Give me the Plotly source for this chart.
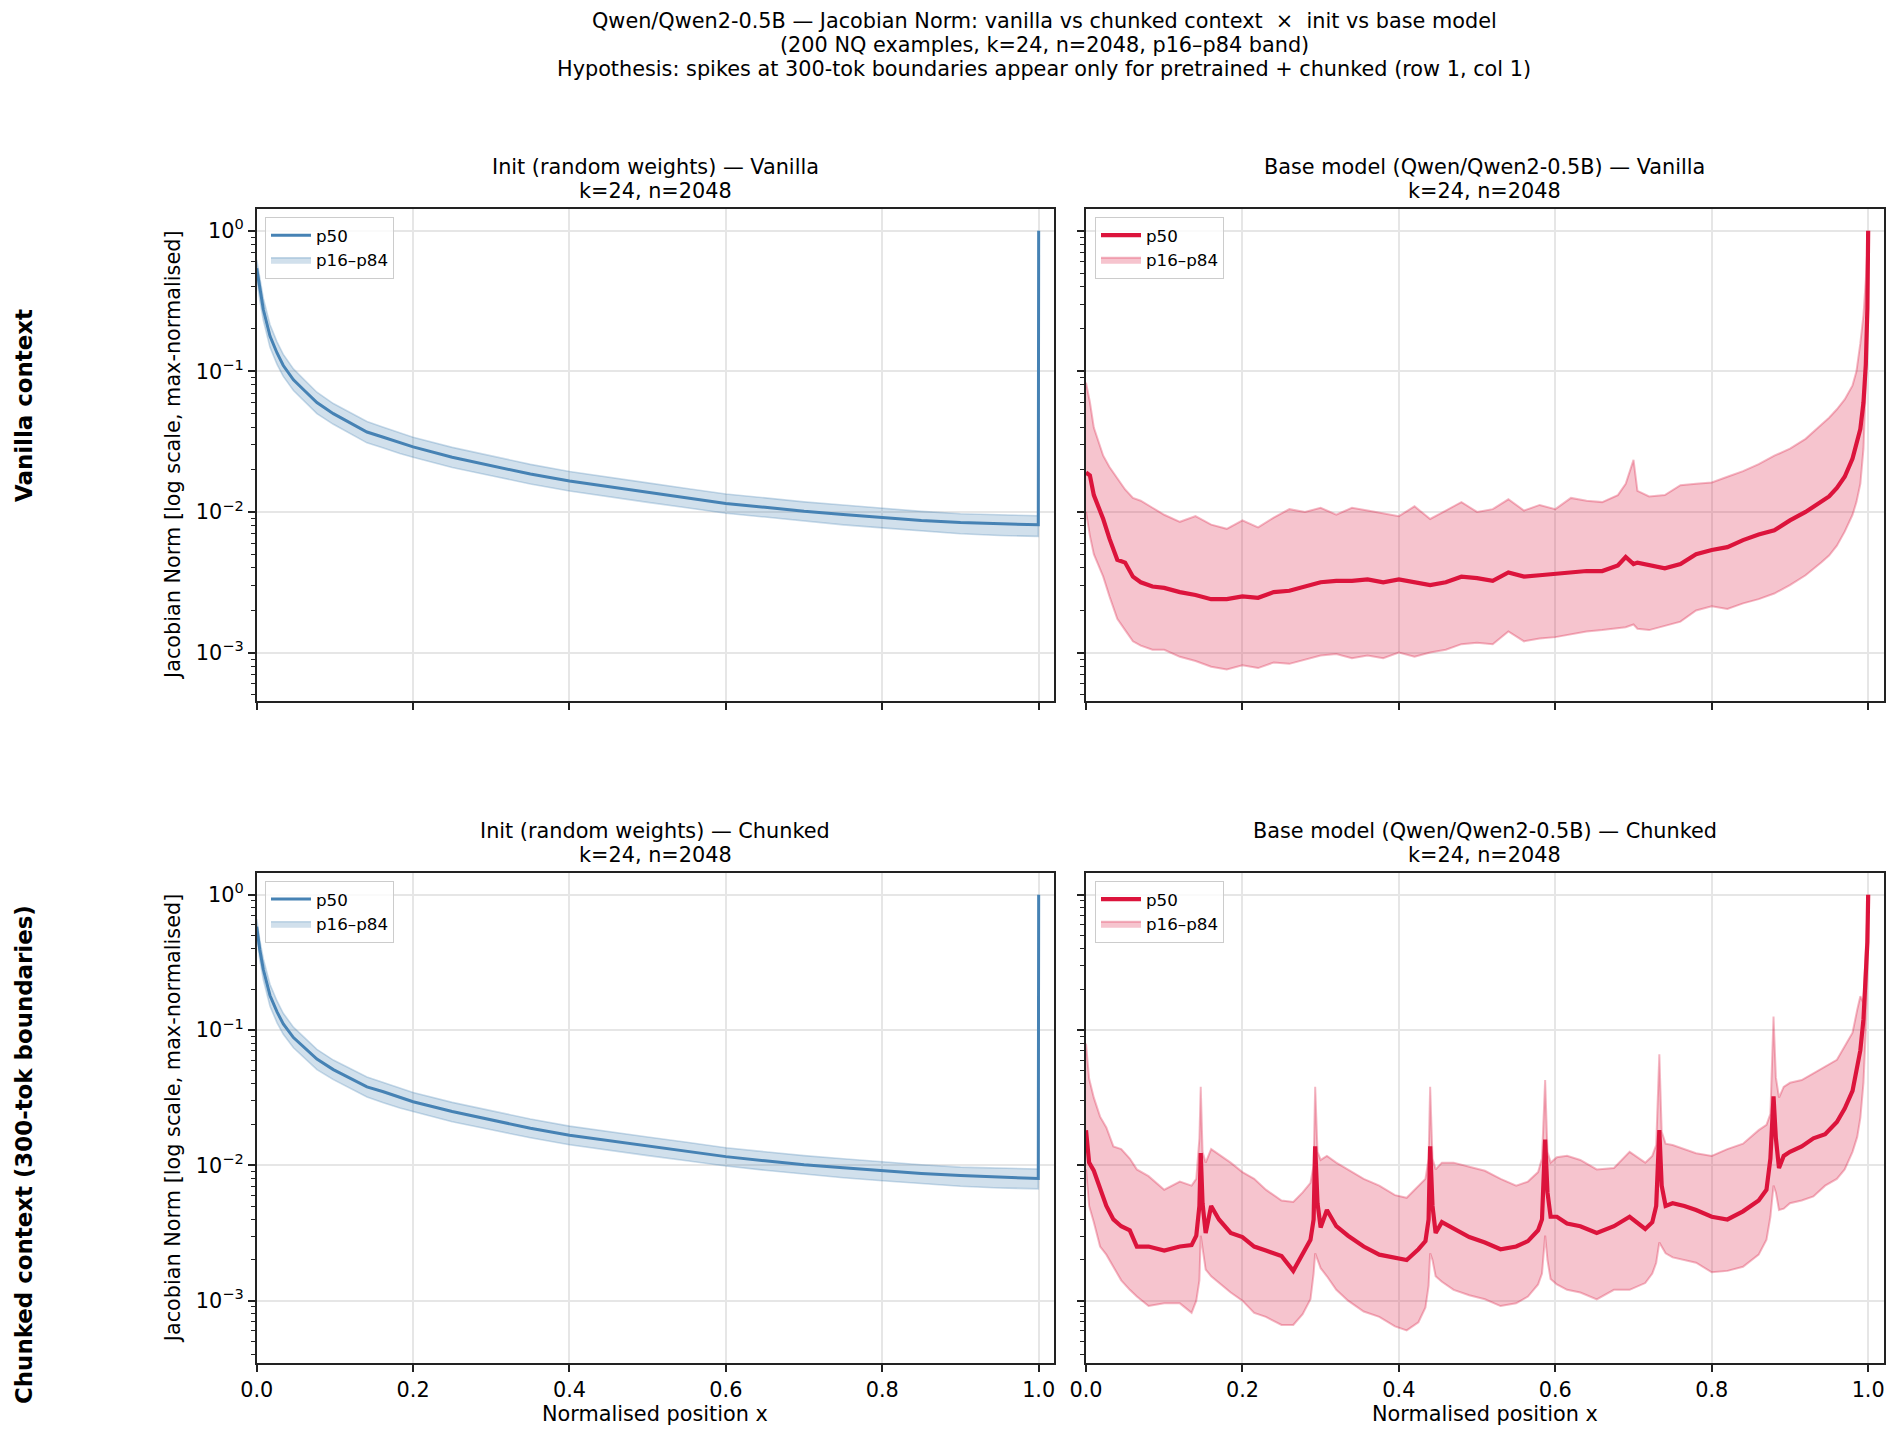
import plotly.graph_objects as go

# ---------------- data ----------------
# Init (random weights) panels: values of the Jacobian norm (max-normalised)
init_x = [0, 0.004, 0.0085, 0.017, 0.026, 0.034, 0.047, 0.06, 0.077, 0.098, 0.119, 0.141,
          0.162, 0.183, 0.2, 0.25, 0.3, 0.35, 0.4, 0.45, 0.5, 0.55, 0.6, 0.65, 0.7, 0.75,
          0.8, 0.85, 0.9, 0.95, 0.9995, 1.0]
init_van_p50 = [0.54, 0.38, 0.275, 0.178, 0.135, 0.11, 0.087, 0.074, 0.060, 0.050, 0.043, 0.037,
                0.034, 0.031, 0.029, 0.0245, 0.0214, 0.0186, 0.0166, 0.0151, 0.0138, 0.0126,
                0.0115, 0.0108, 0.0101, 0.0096, 0.0091, 0.0087, 0.0084, 0.0082, 0.0081, 1.0]
init_van_p84 = [0.62, 0.45, 0.33, 0.215, 0.162, 0.132, 0.104, 0.088, 0.071, 0.059, 0.051, 0.044,
                0.040, 0.0365, 0.034, 0.0288, 0.0251, 0.0218, 0.0194, 0.0176, 0.0161, 0.0147,
                0.0134, 0.0126, 0.0118, 0.0112, 0.0106, 0.0101, 0.0097, 0.0095, 0.0094, 1.0]
init_van_p16 = [0.47, 0.32, 0.23, 0.148, 0.112, 0.092, 0.073, 0.062, 0.050, 0.042, 0.036, 0.031,
                0.0285, 0.026, 0.0245, 0.0207, 0.0181, 0.0158, 0.0141, 0.0128, 0.0117, 0.0107,
                0.0098, 0.0092, 0.0086, 0.0081, 0.0077, 0.0073, 0.0070, 0.0068, 0.0067, 1.0]

init_chk_p50 = [0.58, 0.39, 0.28, 0.18, 0.136, 0.111, 0.088, 0.075, 0.061, 0.051, 0.044, 0.038,
                0.035, 0.032, 0.0295, 0.025, 0.0217, 0.0188, 0.0167, 0.0152, 0.0139, 0.0127,
                0.0116, 0.0108, 0.0101, 0.0096, 0.0091, 0.0087, 0.0084, 0.0082, 0.0080, 1.0]
init_chk_p84 = [0.66, 0.46, 0.335, 0.218, 0.164, 0.133, 0.105, 0.089, 0.072, 0.060, 0.052, 0.045,
                0.041, 0.037, 0.0345, 0.0292, 0.0254, 0.022, 0.0195, 0.0177, 0.0162, 0.0148,
                0.0135, 0.0126, 0.0118, 0.0112, 0.0106, 0.0101, 0.0097, 0.0095, 0.0094, 1.0]
init_chk_p16 = [0.50, 0.33, 0.235, 0.15, 0.113, 0.093, 0.074, 0.063, 0.051, 0.043, 0.037, 0.032,
                0.029, 0.0265, 0.025, 0.021, 0.0183, 0.016, 0.0142, 0.0129, 0.0118, 0.0108,
                0.0099, 0.0092, 0.0086, 0.0081, 0.0077, 0.0073, 0.0070, 0.0068, 0.0067, 1.0]

# Base model panels: log10 of the Jacobian norm (max-normalised)
base_van_x = [0, 0.005, 0.01, 0.016, 0.022, 0.03, 0.04, 0.05, 0.06, 0.07,
              0.085, 0.1, 0.12, 0.14, 0.16, 0.18, 0.2, 0.22, 0.24, 0.26,
              0.28, 0.3, 0.32, 0.34, 0.36, 0.38, 0.4, 0.42, 0.44, 0.46,
              0.48, 0.5, 0.52, 0.54, 0.56, 0.58, 0.6, 0.62, 0.64, 0.66,
              0.68, 0.69, 0.7, 0.705, 0.72, 0.74, 0.76, 0.78, 0.8, 0.82,
              0.84, 0.86, 0.88, 0.9, 0.92, 0.94, 0.95, 0.96, 0.97, 0.98,
              0.985, 0.99, 0.994, 0.997, 0.999, 1.0]
base_van_p50_log10 = [-1.72, -1.74, -1.88, -1.96, -2.05, -2.19, -2.34, -2.36, -2.46, -2.50,
                      -2.53, -2.54, -2.57, -2.59, -2.62, -2.62, -2.60, -2.61, -2.57, -2.56,
                      -2.53, -2.50, -2.49, -2.49, -2.48, -2.50, -2.48, -2.50, -2.52, -2.50,
                      -2.46, -2.47, -2.49, -2.43, -2.46, -2.45, -2.44, -2.43, -2.42, -2.42,
                      -2.38, -2.32, -2.37, -2.36, -2.38, -2.40, -2.37, -2.30, -2.27, -2.25,
                      -2.20, -2.16, -2.13, -2.06, -2.00, -1.93, -1.89, -1.83, -1.75, -1.62,
                      -1.52, -1.41, -1.22, -0.95, -0.55, 0.0]
base_van_p84_log10 = [-1.08, -1.22, -1.40, -1.50, -1.60, -1.68, -1.76, -1.84, -1.90, -1.92,
                      -1.97, -2.02, -2.07, -2.03, -2.09, -2.12, -2.06, -2.11, -2.04, -1.98,
                      -2.00, -1.97, -2.02, -1.97, -1.99, -2.01, -2.03, -1.96, -2.05, -1.99,
                      -1.93, -2.00, -1.98, -1.91, -1.99, -1.95, -1.98, -1.90, -1.92, -1.93,
                      -1.88, -1.80, -1.63, -1.85, -1.89, -1.88, -1.81, -1.80, -1.79, -1.75,
                      -1.71, -1.66, -1.60, -1.55, -1.48, -1.38, -1.33, -1.27, -1.20, -1.10,
                      -1.00, -0.80, -0.60, -0.35, -0.15, 0.0]
base_van_p16_log10 = [-2.00, -2.17, -2.30, -2.38, -2.46, -2.60, -2.76, -2.84, -2.92, -2.95,
                      -2.98, -2.98, -3.03, -3.06, -3.10, -3.12, -3.09, -3.11, -3.07, -3.08,
                      -3.05, -3.02, -3.01, -3.04, -3.02, -3.04, -3.00, -3.03, -3.00, -2.98,
                      -2.94, -2.93, -2.94, -2.85, -2.92, -2.90, -2.89, -2.87, -2.85, -2.84,
                      -2.83, -2.82, -2.80, -2.83, -2.84, -2.81, -2.78, -2.70, -2.67, -2.69,
                      -2.65, -2.62, -2.58, -2.52, -2.45, -2.36, -2.31, -2.24, -2.14, -2.02,
                      -1.93, -1.80, -1.55, -1.10, -0.55, 0.0]

base_chk_x = [0, 0.004, 0.01, 0.018, 0.026, 0.035, 0.045, 0.056, 0.065, 0.08,
              0.1, 0.12, 0.135, 0.141, 0.145, 0.1467, 0.149, 0.153, 0.16, 0.17,
              0.185, 0.2, 0.215, 0.23, 0.25, 0.265, 0.277, 0.287, 0.291, 0.293,
              0.296, 0.3, 0.308, 0.32, 0.335, 0.355, 0.375, 0.395, 0.41, 0.425,
              0.434, 0.438, 0.44, 0.443, 0.447, 0.455, 0.47, 0.49, 0.51, 0.53,
              0.55, 0.565, 0.578, 0.583, 0.587, 0.59, 0.594, 0.602, 0.615, 0.632,
              0.653, 0.675, 0.695, 0.715, 0.724, 0.729, 0.733, 0.736, 0.741, 0.75,
              0.765, 0.78, 0.8, 0.82, 0.84, 0.86, 0.87, 0.875, 0.879, 0.882,
              0.886, 0.892, 0.9, 0.915, 0.93, 0.945, 0.96, 0.97, 0.98, 0.986,
              0.99, 0.994, 0.997, 0.999, 1.0]
base_chk_p50_log10 = [-1.74, -1.98, -2.04, -2.18, -2.30, -2.40, -2.45, -2.48, -2.60, -2.60,
                      -2.63, -2.60, -2.59, -2.52, -2.30, -1.91, -2.28, -2.50, -2.30, -2.40,
                      -2.50, -2.53, -2.60, -2.63, -2.67, -2.78, -2.66, -2.55, -2.40, -1.86,
                      -2.28, -2.46, -2.33, -2.45, -2.52, -2.60, -2.66, -2.68, -2.70, -2.62,
                      -2.56, -2.40, -1.86, -2.30, -2.50, -2.42, -2.47, -2.53, -2.57, -2.62,
                      -2.60, -2.56, -2.48, -2.40, -1.81, -2.20, -2.38, -2.38, -2.43, -2.45,
                      -2.50, -2.45, -2.38, -2.47, -2.42, -2.30, -1.74, -2.15, -2.30, -2.28,
                      -2.30, -2.33, -2.38, -2.40, -2.34, -2.26, -2.18, -1.95, -1.49, -1.80,
                      -2.02, -1.93, -1.90, -1.86, -1.80, -1.77, -1.68, -1.58, -1.45, -1.29,
                      -1.15, -0.92, -0.65, -0.35, 0.0]
base_chk_p84_log10 = [-1.10, -1.36, -1.50, -1.64, -1.72, -1.86, -1.88, -1.95, -2.03, -2.08,
                      -2.18, -2.12, -2.15, -2.10, -1.80, -1.42, -1.90, -1.98, -1.88, -1.92,
                      -1.98, -2.05, -2.10, -2.18, -2.26, -2.27, -2.20, -2.13, -2.00, -1.42,
                      -1.90, -1.96, -1.93, -1.98, -2.03, -2.10, -2.15, -2.22, -2.24, -2.15,
                      -2.10, -1.95, -1.42, -1.95, -2.03, -1.98, -1.98, -2.01, -2.04, -2.10,
                      -2.15, -2.12, -2.05, -1.95, -1.37, -1.90, -1.98, -1.94, -1.93, -1.96,
                      -2.03, -2.02, -1.90, -1.98, -1.93, -1.85, -1.18, -1.75, -1.84, -1.85,
                      -1.88, -1.91, -1.93, -1.88, -1.84, -1.74, -1.70, -1.62, -0.90, -1.35,
                      -1.50, -1.42, -1.39, -1.37, -1.32, -1.27, -1.22, -1.12, -1.02, -0.85,
                      -0.75, -0.80, -0.40, -0.15, 0.0]
base_chk_p16_log10 = [-2.03, -2.30, -2.42, -2.60, -2.66, -2.75, -2.85, -2.92, -2.97, -3.04,
                      -3.02, -3.02, -3.09, -3.00, -2.85, -2.52, -2.60, -2.77, -2.82, -2.87,
                      -2.94, -3.00, -3.09, -3.12, -3.18, -3.18, -3.10, -2.99, -2.80, -2.65,
                      -2.70, -2.76, -2.82, -2.92, -3.00, -3.08, -3.12, -3.19, -3.22, -3.16,
                      -3.05, -2.89, -2.65, -2.70, -2.82, -2.86, -2.92, -2.96, -2.99, -3.04,
                      -3.02, -2.97, -2.88, -2.80, -2.52, -2.70, -2.84, -2.88, -2.92, -2.94,
                      -2.99, -2.92, -2.92, -2.87, -2.80, -2.72, -2.57, -2.60, -2.65, -2.68,
                      -2.70, -2.72, -2.79, -2.78, -2.75, -2.66, -2.55, -2.38, -2.15, -2.20,
                      -2.33, -2.32, -2.28, -2.26, -2.23, -2.15, -2.10, -2.03, -1.90, -1.79,
                      -1.65, -1.39, -1.00, -0.55, 0.0]

x_ticks = [0.0, 0.2, 0.4, 0.6, 0.8, 1.0]
y_ticks = [1e-3, 1e-2, 1e-1, 1.0]
y_ticktext = ["10<sup>−3</sup>", "10<sup>−2</sup>", "10<sup>−1</sup>", "10<sup>0</sup>"]

suptitle_lines = [
    "Qwen/Qwen2-0.5B — Jacobian Norm: vanilla vs chunked context  ×  init vs base model",
    "(200 NQ examples, k=24, n=2048, p16–p84 band)",
    "Hypothesis: spikes at 300-tok boundaries appear only for pretrained + chunked (row 1, col 1)",
]
panel_titles = [
    ("Init (random weights) — Vanilla", "k=24, n=2048"),
    ("Base model (Qwen/Qwen2-0.5B) — Vanilla", "k=24, n=2048"),
    ("Init (random weights) — Chunked", "k=24, n=2048"),
    ("Base model (Qwen/Qwen2-0.5B) — Chunked", "k=24, n=2048"),
]
row_labels = ["Vanilla context", "Chunked context (300-tok boundaries)"]
y_label = "Jacobian Norm [log scale, max-normalised]"
x_label = "Normalised position x"

# ---------------- styling ----------------
W, H = 1899, 1442
FONT = "DejaVu Sans"
FS = 20.8
BLUE = "#4682B4"
RED = "#DC143C"
BLUE_FILL = "rgba(70,130,180,0.25)"
RED_FILL = "rgba(220,20,60,0.25)"
BLUE_EDGE = "rgba(70,130,180,0.28)"
RED_EDGE = "rgba(220,20,60,0.30)"

def px_x(p):
    return p / W

def px_y(p):
    return 1 - p / H

col_dom = [[px_x(256.7), px_x(1054.0)], [px_x(1086.0), px_x(1883.5)]]
row_dom = [[px_y(700.7), px_y(209.3)], [px_y(1363.3), px_y(873.2)]]
row_top_px = [209.3, 873.2]
row_yrange = [[-3.342, 0.152], [-3.463, 0.159]]

fig = go.Figure()

panels = [
    (0, 0, init_x, init_van_p16, init_van_p84, init_van_p50, BLUE, BLUE_FILL, BLUE_EDGE, 3.0, 1.6),
    (0, 1, base_van_x, [10 ** v for v in base_van_p16_log10], [10 ** v for v in base_van_p84_log10],
     [10 ** v for v in base_van_p50_log10], RED, RED_FILL, RED_EDGE, 4.2, 2.0),
    (1, 0, init_x, init_chk_p16, init_chk_p84, init_chk_p50, BLUE, BLUE_FILL, BLUE_EDGE, 3.0, 1.6),
    (1, 1, base_chk_x, [10 ** v for v in base_chk_p16_log10], [10 ** v for v in base_chk_p84_log10],
     [10 ** v for v in base_chk_p50_log10], RED, RED_FILL, RED_EDGE, 4.2, 2.0),
]

minor_vals = [d * 10.0 ** e for e in range(-4, 1) for d in range(2, 10)]

layout = dict(
    width=W, height=H, margin=dict(l=0, r=0, t=0, b=0, pad=0, autoexpand=False),
    paper_bgcolor="white", plot_bgcolor="white",
    font=dict(family=FONT, size=FS, color="black"),
    annotations=[],
)

for i, (r, c, xs, p16, p84, p50, lc, fc, ec, lw, ew) in enumerate(panels):
    n = i + 1
    xa = "x" if n == 1 else f"x{n}"
    ya = "y" if n == 1 else f"y{n}"
    leg = "legend" if n == 1 else f"legend{n}"
    fig.add_trace(go.Scatter(x=xs, y=p16, mode="lines", line=dict(color=ec, width=ew),
                             xaxis=xa, yaxis=ya, showlegend=False, hoverinfo="skip"))
    fig.add_trace(go.Scatter(x=xs, y=p84, mode="lines", line=dict(color=ec, width=ew),
                             fill="tonexty", fillcolor=fc, name="p16–p84",
                             xaxis=xa, yaxis=ya, legend=leg, legendrank=2))
    fig.add_trace(go.Scatter(x=xs, y=p50, mode="lines", line=dict(color=lc, width=lw),
                             name="p50", xaxis=xa, yaxis=ya, legend=leg, legendrank=1))

    xkey = "xaxis" if n == 1 else f"xaxis{n}"
    ykey = "yaxis" if n == 1 else f"yaxis{n}"
    layout[xkey] = dict(
        domain=col_dom[c], anchor=ya, range=[0, 1.0196], automargin=False,
        tickmode="array", tickvals=x_ticks, tickformat=".1f",
        showticklabels=(r == 1),
        showgrid=True, gridcolor="#e6e6e6", gridwidth=1.5,
        showline=True, linecolor="#222222", linewidth=1.6, mirror=True,
        ticks="outside", ticklen=7, tickwidth=1.6, tickcolor="#222222",
        zeroline=False, tickfont=dict(size=FS, family=FONT, color="black"),
    )
    layout[ykey] = dict(
        domain=row_dom[r], anchor=xa, type="log", range=row_yrange[r], automargin=False,
        tickmode="array", tickvals=y_ticks, ticktext=y_ticktext,
        showticklabels=(c == 0),
        showgrid=True, gridcolor="#e6e6e6", gridwidth=1.5,
        showline=True, linecolor="#222222", linewidth=1.6, mirror=True,
        ticks="outside", ticklen=7, tickwidth=1.6, tickcolor="#222222",
        zeroline=False, tickfont=dict(size=FS, family=FONT, color="black"),
        minor=dict(tickmode="array", tickvals=minor_vals, ticks="outside", ticklen=4,
                   tickwidth=1.2, tickcolor="#222222", showgrid=False),
    )
    # legend
    lx = px_x(265.0) if c == 0 else px_x(1095.0)
    ly = px_y(row_top_px[r] + 7.5)
    layout[leg] = dict(
        x=lx, y=ly, xanchor="left", yanchor="top", traceorder="normal",
        bgcolor="rgba(255,255,255,0.8)", bordercolor="#cccccc", borderwidth=1,
        font=dict(size=16.7, family=FONT, color="black"),
        tracegroupgap=0, itemwidth=40,
    )
    # panel titles (two lines)
    cx = (col_dom[c][0] + col_dom[c][1]) / 2
    t1, t2 = panel_titles[i]
    top = row_top_px[r]
    layout["annotations"].append(dict(text=t1, x=cx, y=px_y(top - 42.5), xref="paper", yref="paper",
                                      xanchor="center", yanchor="middle", showarrow=False,
                                      font=dict(size=FS, family=FONT, color="black")))
    layout["annotations"].append(dict(text=t2, x=cx, y=px_y(top - 18.5), xref="paper", yref="paper",
                                      xanchor="center", yanchor="middle", showarrow=False,
                                      font=dict(size=FS, family=FONT, color="black")))

# y labels
for r in range(2):
    cy = (row_dom[r][0] + row_dom[r][1]) / 2
    layout["annotations"].append(dict(text=y_label, x=px_x(173), y=cy, xref="paper", yref="paper",
                                      textangle=-90, xanchor="center", yanchor="middle",
                                      showarrow=False, font=dict(size=FS, family=FONT, color="black")))
# x labels
for c in range(2):
    cx = (col_dom[c][0] + col_dom[c][1]) / 2
    layout["annotations"].append(dict(text=x_label, x=cx, y=px_y(1414), xref="paper", yref="paper",
                                      xanchor="center", yanchor="middle", showarrow=False,
                                      font=dict(size=FS, family=FONT, color="black")))
# row labels
for lbl, ypx in zip(row_labels, [406, 1155]):
    layout["annotations"].append(dict(text=f"<b>{lbl}</b>", x=px_x(24), y=px_y(ypx), xref="paper",
                                      yref="paper", textangle=-90, xanchor="center", yanchor="middle",
                                      showarrow=False, font=dict(size=22.9, family=FONT, color="black")))
# suptitle
for line, ypx in zip(suptitle_lines, [21, 45, 69]):
    layout["annotations"].append(dict(text=line, x=0.55, y=px_y(ypx), xref="paper", yref="paper",
                                      xanchor="center", yanchor="middle", showarrow=False,
                                      font=dict(size=FS, family=FONT, color="black")))

fig.update_layout(**layout)
fig.write_html("out.html")
